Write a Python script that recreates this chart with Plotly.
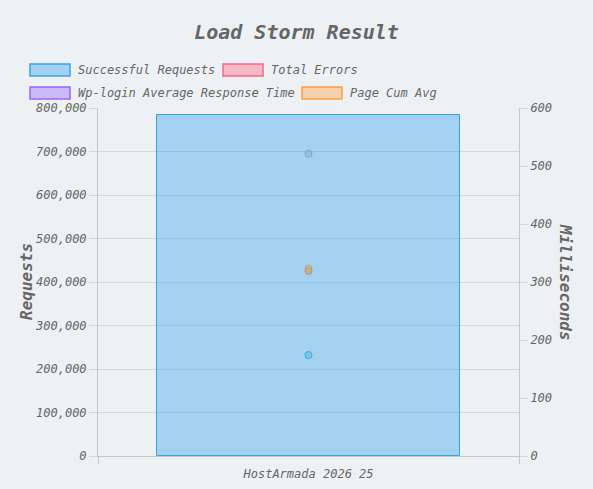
import plotly.graph_objects as go

# data
categories = ["HostArmada 2026 25"]
successful_requests = [784000]
wp_login_avg_ms = [521]
page_cum_avg_ms = [323]
total_errors_ms = [319]
avg_response_ms = [174]

legend_names = ["Successful Requests", "Total Errors",
                "Wp-login Average Response Time", "Page Cum Avg"]
legend_fills = ["rgba(54,162,235,0.4)", "rgba(255,99,132,0.4)",
                "rgba(153,102,255,0.4)", "rgba(255,159,64,0.4)"]
legend_lines = ["rgb(54,162,235)", "rgb(255,99,132)",
                "rgb(153,102,255)", "rgb(255,159,64)"]

W, H = 593, 489
L, R, T, B = 98, 74, 108, 33
PW, PH = W - L - R, H - T - B
bg = "#edf1f4"
txt = "#666666"
mono = "DejaVu Sans Mono"


def px_x(x):
    return (x - L) / PW


def px_y(y):
    return (H - B - y) / PH


fig = go.Figure()

fig.add_trace(go.Bar(x=categories, y=successful_requests, name=legend_names[0],
                     width=0.72, marker=dict(color=legend_fills[0],
                                             line=dict(color=legend_lines[0], width=1)),
                     yaxis="y"))

# point series on the milliseconds axis (they sit behind the bar in the original)
points = [
    (wp_login_avg_ms, "rgba(150,188,222,0.9)", "rgba(125,165,205,1)"),
    (page_cum_avg_ms, "rgba(205,190,130,0.9)", "rgba(185,165,120,1)"),
    (total_errors_ms, "rgba(190,175,140,0.9)", "rgba(170,155,130,1)"),
    (avg_response_ms, "rgba(110,200,230,0.9)", "rgba(60,170,210,1)"),
]
for vals, fill, line in points:
    fig.add_trace(go.Scatter(x=categories, y=vals, mode="markers", yaxis="y2",
                             marker=dict(size=7, color=fill, line=dict(color=line, width=1)),
                             showlegend=False))

font = dict(family=mono, size=12, color=txt, style="italic")

fig.update_layout(
    width=W, height=H,
    margin=dict(l=L, r=R, t=T, b=B),
    paper_bgcolor=bg, plot_bgcolor=bg,
    showlegend=False,
    font=font,
    title=dict(text="Load Storm Result", x=0.5, xref="container", xanchor="center",
               y=1 - 32 / H, yref="container", yanchor="middle",
               font=dict(family=mono, size=20, color=txt, style="italic", weight="bold")),
    bargap=0,
    xaxis=dict(showgrid=False, showline=True, linecolor="#c4c8cc", automargin=False,
               ticks="outside", tickson="boundaries", ticklen=7, tickcolor="#c4c8cc",
               ticklabelstandoff=7, tickfont=font),
    yaxis=dict(range=[0, 800000], dtick=100000, tickformat=",", showgrid=True,
               gridcolor="rgba(0,0,0,0.1)", showline=True, linecolor="#c4c8cc",
               ticks="outside", ticklen=8, tickcolor="rgba(0,0,0,0.1)", zeroline=False,
               automargin=False, tickfont=font),
    yaxis2=dict(range=[0, 600], dtick=100, overlaying="y", side="right", showgrid=False,
                showline=True, linecolor="#c4c8cc", ticks="outside", ticklen=8,
                tickcolor="rgba(0,0,0,0.1)", zeroline=False, automargin=False,
                tickfont=font),
)

axis_font = dict(family=mono, size=16, color=txt, style="italic", weight="bold")
fig.add_annotation(text="Requests", x=px_x(26), y=0.5, xref="paper", yref="paper",
                   textangle=-90, showarrow=False, font=axis_font,
                   xanchor="center", yanchor="middle")
fig.add_annotation(text="Milliseconds", x=px_x(566), y=0.5, xref="paper", yref="paper",
                   textangle=90, showarrow=False, font=axis_font,
                   xanchor="center", yanchor="middle")

# legend drawn like the original wide boxes
legend_pos = [(30, 70), (223, 70), (30, 93), (302, 93)]
for name, fill, line, (bx, cy) in zip(legend_names, legend_fills, legend_lines, legend_pos):
    fig.add_shape(type="rect", xref="paper", yref="paper",
                  x0=px_x(bx), x1=px_x(bx + 40), y0=px_y(cy - 6), y1=px_y(cy + 6),
                  fillcolor=fill, line=dict(color=line, width=1.5))
    fig.add_annotation(text=name, x=px_x(bx + 46), y=px_y(cy), xref="paper", yref="paper",
                       showarrow=False, xanchor="left", yanchor="middle", font=font)

# page body margin would push the chart 8px off the window edge
fig.write_html("out.html", config={"displayModeBar": False},
               post_script="document.body.style.margin='0';"
                           "document.body.style.background='%s';" % bg)
